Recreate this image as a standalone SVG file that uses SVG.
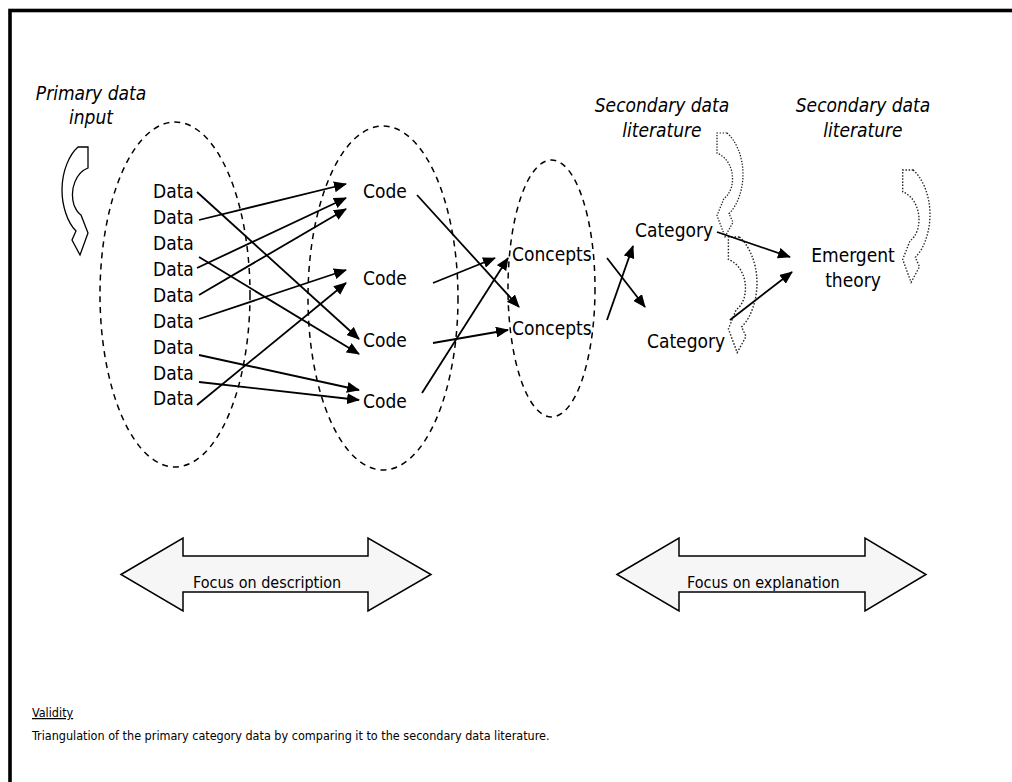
<svg xmlns="http://www.w3.org/2000/svg" width="1012" height="782" viewBox="0 0 1012 782">
  <style>
    text { font-family: "DejaVu Sans Condensed", "DejaVu Sans", sans-serif; font-stretch: condensed; fill: #000; }
    .lbl { font-size: 19px; }
    .ital { font-size: 19px; font-style: italic; text-anchor: middle; }
    .focus { font-size: 16px; }
    .note { font-size: 12.5px; }
    .cluster { fill: none; stroke: #000; stroke-width: 1.5; stroke-dasharray: 6 5; }
    .flow { stroke: #000; stroke-width: 1.8; fill: none; marker-end: url(#head); }
    .band { fill: #f6f6f6; stroke: #000; stroke-width: 1.5; stroke-linejoin: miter; }
    .loop { fill: #fff; stroke: #000; stroke-width: 1.3; }
    .loop-dot { fill: none; stroke: #222; stroke-width: 1.3; stroke-dasharray: 1.4 1.6; }
  </style>
  <defs>
    <marker id="head" viewBox="0 0 13 11" refX="12" refY="5.5" markerWidth="13" markerHeight="11" markerUnits="userSpaceOnUse" orient="auto">
      <path d="M0,0 L13,5.5 L0,11 Z" fill="#000"/>
    </marker>
    <!-- curved feedback arrow, bulging left, head pointing down -->
    <path id="curl" d="M16,0 L26,0 L26,21 C15,25 7,41 12,58 C14,63 16,66 19,68 L26,86 L18,108 L10,93 L14,84 C5,75 0,58 0,43 C0,23 8,7 16,0 Z"/>
  </defs>

  <!-- outer frame -->
  <rect x="10" y="10.5" width="1100" height="900" fill="none" stroke="#000" stroke-width="3.6"/>

  <!-- input annotations -->
  <g id="primary-input">
    <text class="ital" x="91" y="100">Primary data</text>
    <text class="ital" x="91" y="124">input</text>
    <use href="#curl" class="loop" transform="translate(62,147)"/>
  </g>
  <g id="secondary-lit-1">
    <text class="ital" x="662" y="112">Secondary data</text>
    <text class="ital" x="662" y="137">literature</text>
    <use href="#curl" class="loop-dot" transform="translate(743,133) scale(-1,0.96)"/>
    <use href="#curl" class="loop-dot" transform="translate(757,237) scale(-1.1,1.07)"/>
  </g>
  <g id="secondary-lit-2">
    <text class="ital" x="863" y="112">Secondary data</text>
    <text class="ital" x="863" y="137">literature</text>
    <use href="#curl" class="loop-dot" transform="translate(930,170) scale(-1.05,1.04)"/>
  </g>

  <!-- clusters -->
  <g id="data-cluster">
    <ellipse class="cluster" cx="175" cy="294.5" rx="75" ry="172.5"/>
    <text class="lbl" x="153" y="198">Data</text>
    <text class="lbl" x="153" y="224">Data</text>
    <text class="lbl" x="153" y="250">Data</text>
    <text class="lbl" x="153" y="276">Data</text>
    <text class="lbl" x="153" y="302">Data</text>
    <text class="lbl" x="153" y="328">Data</text>
    <text class="lbl" x="153" y="354">Data</text>
    <text class="lbl" x="153" y="380">Data</text>
    <text class="lbl" x="153" y="405">Data</text>
  </g>
  <g id="code-cluster">
    <ellipse class="cluster" cx="383" cy="298" rx="75" ry="172"/>
    <text class="lbl" x="363" y="198">Code</text>
    <text class="lbl" x="363" y="285">Code</text>
    <text class="lbl" x="363" y="347">Code</text>
    <text class="lbl" x="363" y="408">Code</text>
  </g>
  <g id="concept-cluster">
    <ellipse class="cluster" cx="551.5" cy="288.5" rx="43.5" ry="128.5"/>
    <text class="lbl" x="512" y="261">Concepts</text>
    <text class="lbl" x="512" y="335">Concepts</text>
  </g>
  <g id="category-1">
    <text class="lbl" x="635" y="237">Category</text>
  </g>
  <g id="category-2">
    <text class="lbl" x="647" y="348">Category</text>
  </g>
  <g id="emergent-theory">
    <text class="lbl" x="853" y="262" text-anchor="middle">Emergent</text>
    <text class="lbl" x="853" y="287" text-anchor="middle">theory</text>
  </g>

  <!-- connectors -->
  <g id="connectors">
    <line class="flow" x1="197" y1="192" x2="359" y2="339"/>
    <line class="flow" x1="199" y1="220" x2="346" y2="184"/>
    <line class="flow" x1="199" y1="257" x2="359" y2="354"/>
    <line class="flow" x1="197" y1="268" x2="346" y2="198"/>
    <line class="flow" x1="199" y1="295" x2="346" y2="209"/>
    <line class="flow" x1="199" y1="319" x2="346" y2="270"/>
    <line class="flow" x1="199" y1="355" x2="359" y2="390"/>
    <line class="flow" x1="199" y1="382" x2="359" y2="400"/>
    <line class="flow" x1="197" y1="405" x2="346" y2="283"/>

    <line class="flow" x1="417" y1="195" x2="519" y2="307"/>
    <line class="flow" x1="433" y1="283" x2="495" y2="258"/>
    <line class="flow" x1="433" y1="343" x2="508" y2="330"/>
    <line class="flow" x1="422" y1="393" x2="508" y2="258"/>

    <line class="flow" x1="607" y1="258" x2="645" y2="307"/>
    <line class="flow" x1="607" y1="320" x2="633" y2="246"/>

    <line class="flow" x1="717" y1="232" x2="790" y2="257"/>
    <line class="flow" x1="730" y1="320" x2="792" y2="272"/>
  </g>

  <!-- focus bands -->
  <g id="focus-description">
    <path class="band" d="M121,574.5 L183,538 L183,556 L368,556 L368,538 L431,574.5 L368,611 L368,592 L183,592 L183,611 Z"/>
    <text class="focus" x="193" y="588">Focus on description</text>
  </g>
  <g id="focus-explanation">
    <path class="band" d="M617,574.5 L679,538 L679,556 L865,556 L865,538 L926,574.5 L865,611 L865,592 L679,592 L679,611 Z"/>
    <text class="focus" x="687" y="588">Focus on explanation</text>
  </g>

  <!-- validity note -->
  <g id="validity-note">
    <text class="note" x="32" y="717" text-decoration="underline">Validity</text>
    <text class="note" x="32" y="740">Triangulation of the primary category data by comparing it to the secondary data literature.</text>
  </g>
</svg>
